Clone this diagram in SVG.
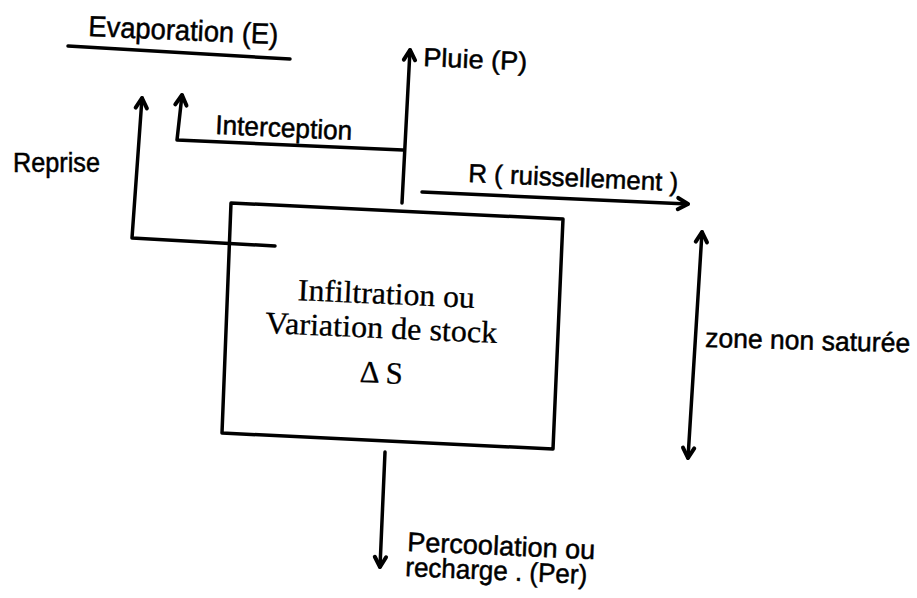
<svg xmlns="http://www.w3.org/2000/svg" width="917" height="598" viewBox="0 0 917 598">
<style>
.ln{fill:none;stroke:#000;stroke-width:3.5;stroke-linecap:round;stroke-linejoin:round}
.sans{font-family:"Liberation Sans",Arial,sans-serif;fill:#000;stroke:#000;stroke-width:0.5}
.serif{font-family:"Liberation Serif","Times New Roman",serif;fill:#000;font-size:31px;stroke:#000;stroke-width:0.3}
</style>
<defs>
<marker id="ah" markerUnits="userSpaceOnUse" markerWidth="20" markerHeight="20" viewBox="-12 -8 14 16" refX="0" refY="0" orient="auto">
<path d="M-8,-4.5 L0,0 L-8,4.5" fill="none" stroke="#000" stroke-width="3.2" stroke-linecap="round" stroke-linejoin="round"/>
</marker>
<marker id="ahs" markerUnits="userSpaceOnUse" markerWidth="20" markerHeight="20" viewBox="-12 -8 14 16" refX="0" refY="0" orient="auto-start-reverse">
<path d="M-8,-4.5 L0,0 L-8,4.5" fill="none" stroke="#000" stroke-width="3.2" stroke-linecap="round" stroke-linejoin="round"/>
</marker>
</defs>
<rect width="917" height="598" fill="#fff"/>

<g id="evaporation">
<line class="ln" x1="68" y1="46" x2="290" y2="59"/>
<text class="sans" x="88" y="36" font-size="29" textLength="190" lengthAdjust="spacingAndGlyphs" transform="rotate(2.5 88 36)">Evaporation  (E)</text>
</g>

<g id="storage">
<polygon class="ln" points="231,203 563,219 553,449 222,433"/>
<text class="serif" x="386" y="304" text-anchor="middle" textLength="177" lengthAdjust="spacingAndGlyphs" transform="rotate(2.5 386 304)">Infiltration ou</text>
<text class="serif" x="381" y="338" text-anchor="middle" textLength="232" lengthAdjust="spacingAndGlyphs" transform="rotate(2.5 381 338)">Variation de stock</text>
<text class="serif" x="381" y="383" text-anchor="middle" textLength="43" lengthAdjust="spacingAndGlyphs" transform="rotate(2.5 381 383)">Δ S</text>
</g>

<g id="connectors">
<polyline class="ln" points="275,246 132,238 142,98" marker-end="url(#ah)"/>
<polyline class="ln" points="403,150 177,140 182,95" marker-end="url(#ah)"/>
<line class="ln" x1="402" y1="203" x2="410" y2="50" marker-end="url(#ah)"/>
<line class="ln" x1="422" y1="192" x2="688" y2="204" marker-end="url(#ah)"/>
<line class="ln" x1="688" y1="458" x2="702" y2="232" marker-start="url(#ahs)" marker-end="url(#ah)"/>
<line class="ln" x1="385" y1="452" x2="380" y2="567" marker-end="url(#ah)"/>
</g>

<g id="labels">
<text class="sans" x="13" y="172" font-size="27" textLength="87" lengthAdjust="spacingAndGlyphs">Reprise</text>
<text class="sans" x="215" y="134" font-size="27" textLength="137" lengthAdjust="spacingAndGlyphs" transform="rotate(2.5 215 134)">Interception</text>
<text class="sans" x="423" y="66" font-size="26" textLength="104" lengthAdjust="spacingAndGlyphs" transform="rotate(2.5 423 66)">Pluie  (P)</text>
<text class="sans" x="468" y="182" font-size="26" textLength="210" lengthAdjust="spacingAndGlyphs" transform="rotate(2.5 468 182)">R ( ruissellement )</text>
<text class="sans" x="705" y="347" font-size="27" textLength="205" lengthAdjust="spacingAndGlyphs" transform="rotate(1.5 705 347)">zone non saturée</text>
<text class="sans" x="407" y="551" font-size="27" textLength="188" lengthAdjust="spacingAndGlyphs" transform="rotate(2.5 407 551)">Percoolation  ou</text>
<text class="sans" x="405" y="576" font-size="27" textLength="182" lengthAdjust="spacingAndGlyphs" transform="rotate(2.5 405 576)">recharge . (Per)</text>
</g>
</svg>
